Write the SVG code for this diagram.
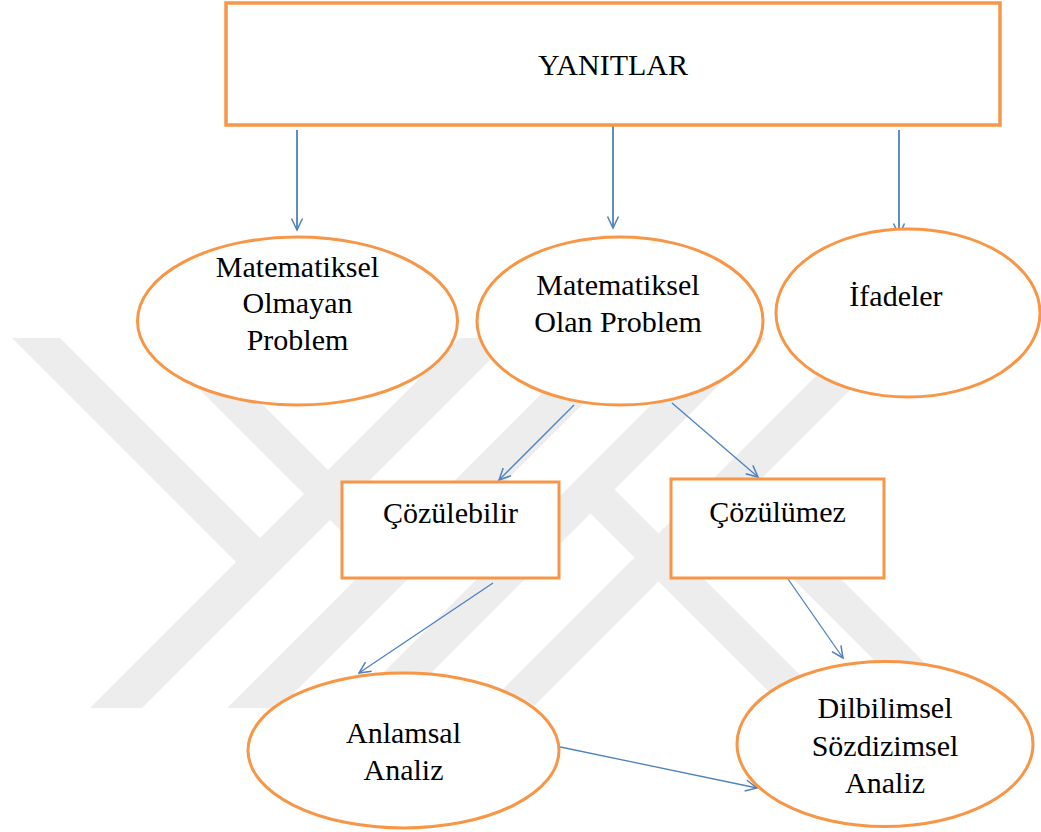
<svg xmlns="http://www.w3.org/2000/svg" width="1041" height="832" viewBox="0 0 1041 832">
<style>
.node{fill:#ffffff;stroke:#F79646;stroke-width:3}
.lbl{font-family:"Liberation Serif","Times New Roman",serif;font-size:30px;fill:#000000;text-anchor:middle}
.wm{fill:#ededed}
.cn{fill:none;stroke:#4F81BD;stroke-width:1.3}
.cv{fill:none;stroke:#4F81BD;stroke-width:1.8}
</style>
<defs>
<marker id="ah" markerUnits="userSpaceOnUse" markerWidth="14" markerHeight="14" viewBox="0 0 14 14" refX="12.5" refY="7" orient="auto">
<path d="M1,1.5 L12.5,7 L1,12.5" fill="none" stroke="#4F81BD" stroke-width="1.5"/>
</marker>
</defs>
<rect x="0" y="0" width="1041" height="832" fill="#ffffff"/>
<g id="watermark">
<polygon class="wm" points="12,338 60,338 262,540 238,564"/>
<polygon class="wm" points="460,338 512,338 142,708 90,708"/>
<polygon class="wm" points="148,338 196,338 398,540 374,564"/>
<polygon class="wm" points="597,338 649,338 279,708 227,708"/>
<polygon class="wm" points="854,338 902,338 532,708 484,708"/>
<polygon class="wm" points="718,338 766,338 396,708 348,708"/>
<polygon class="wm" points="739,477 970,708 922,708 715,501"/>
<polygon class="wm" points="602.5,477.5 833,708 785,708 578.5,501.5"/>
</g>
<g id="connectors">
<line class="cv" x1="297" y1="130" x2="297" y2="230" marker-end="url(#ah)"/>
<line class="cv" x1="613" y1="125" x2="613" y2="228" marker-end="url(#ah)"/>
<line class="cv" x1="899" y1="130" x2="899" y2="235" marker-end="url(#ah)"/>
<line class="cn" x1="574" y1="405" x2="499" y2="480" marker-end="url(#ah)"/>
<line class="cn" x1="672" y1="403" x2="758" y2="477" marker-end="url(#ah)"/>
<line class="cn" x1="493" y1="583" x2="359" y2="673" marker-end="url(#ah)"/>
<line class="cn" x1="788" y1="579" x2="843" y2="658" marker-end="url(#ah)"/>
<line class="cn" x1="546" y1="744" x2="757" y2="788" marker-end="url(#ah)"/>
</g>
<g id="yanitlar">
<rect class="node" x="226" y="3" width="774" height="122" style="stroke-width:3.5"/>
<text class="lbl" x="613" y="75">YANITLAR</text>
</g>
<g id="mat-olmayan">
<ellipse class="node" cx="297.5" cy="321" rx="160" ry="84"/>
<text class="lbl" x="297.5" y="277">Matematiksel</text>
<text class="lbl" x="297.5" y="313">Olmayan</text>
<text class="lbl" x="297.5" y="350">Problem</text>
</g>
<g id="mat-olan">
<ellipse class="node" cx="620" cy="321" rx="143" ry="84"/>
<text class="lbl" x="618" y="295">Matematiksel</text>
<text class="lbl" x="618" y="332">Olan Problem</text>
</g>
<g id="ifadeler">
<ellipse class="node" cx="908" cy="313" rx="132" ry="84"/>
<text class="lbl" x="896" y="306">İfadeler</text>
</g>
<g id="cozulebilir">
<rect class="node" x="342" y="482" width="217" height="96"/>
<text class="lbl" x="450.5" y="523">Çözülebilir</text>
</g>
<g id="cozulumez">
<rect class="node" x="671" y="479" width="213" height="99"/>
<text class="lbl" x="777.5" y="522">Çözülümez</text>
</g>
<g id="anlamsal">
<ellipse class="node" cx="403.5" cy="750.5" rx="155.5" ry="77.5"/>
<text class="lbl" x="403.5" y="743">Anlamsal</text>
<text class="lbl" x="403.5" y="780">Analiz</text>
</g>
<g id="dilbilimsel">
<ellipse class="node" cx="885" cy="744" rx="148" ry="82.5"/>
<text class="lbl" x="885" y="718">Dilbilimsel</text>
<text class="lbl" x="885" y="756">Sözdizimsel</text>
<text class="lbl" x="885" y="793">Analiz</text>
</g>
</svg>
